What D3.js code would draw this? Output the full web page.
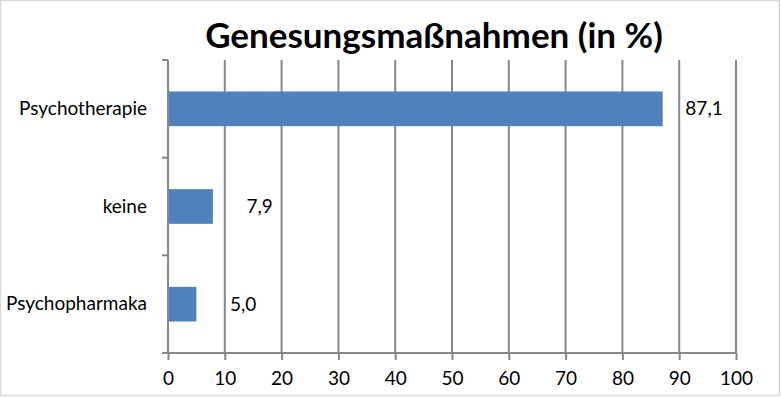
<!DOCTYPE html>
<html><head><meta charset="utf-8">
<script src="https://cdn.jsdelivr.net/npm/d3@7"></script>
<style>
html,body{margin:0;padding:0;background:#fff;}
svg text{font-family:"Lato","Open Sans",sans-serif;}
</style></head>
<body><svg id="c" width="781" height="397"></svg>
<script>
const title = "Genesungsmaßnahmen (in %)";
const categories = ["Psychotherapie", "keine", "Psychopharmaka"];
const values = [87.1, 7.9, 5.0];
const valueLabels = ["87,1", "7,9", "5,0"];
const xTicks = [0, 10, 20, 30, 40, 50, 60, 70, 80, 90, 100];

const svg = d3.select("#c");
const W = 781, H = 397;
const m = {left: 168, right: 736, top: 60, bottom: 353};
const fs = 19;

svg.append("rect").attr("x", 0.5).attr("y", 0.5).attr("width", W - 2).attr("height", H - 2)
  .attr("fill", "#fff").attr("stroke", "#d9d9d9").attr("stroke-width", 1.5);

const x = d3.scaleLinear().domain([0, 100]).range([m.left, m.right]);
const y = d3.scaleBand().domain(categories).range([m.top, m.bottom]).paddingInner(0.645).paddingOuter(0.3225);

const gc = "#878787";
// gridlines
svg.append("g").selectAll("line").data(xTicks.slice(1)).join("line")
  .attr("x1", d => x(d)).attr("x2", d => x(d)).attr("y1", m.top).attr("y2", m.bottom)
  .attr("stroke", gc).attr("stroke-width", 2);

// bars
svg.append("g").selectAll("rect").data(values).join("rect")
  .attr("x", x(0)).attr("y", (d, i) => y(categories[i]))
  .attr("width", d => x(d) - x(0)).attr("height", y.bandwidth())
  .attr("fill", "#4f81bd");

// x axis
const xa = svg.append("g").attr("transform", `translate(0,${m.bottom})`)
  .call(d3.axisBottom(x).tickValues(xTicks).tickSize(7).tickPadding(12).tickFormat(d3.format("d")));
xa.select(".domain").attr("stroke", gc).attr("stroke-width", 2).attr("d", `M${m.left - 6},0H${m.right}`);
xa.selectAll(".tick line").attr("stroke", gc).attr("stroke-width", 2);
xa.selectAll(".tick text").attr("font-size", fs).attr("fill", "#000");

// y axis
const ya = svg.append("g").attr("transform", `translate(${m.left},0)`)
  .call(d3.axisLeft(y).tickSize(0).tickPadding(21));
ya.select(".domain").attr("stroke", gc).attr("stroke-width", 2).attr("d", `M0,${m.top}V${m.bottom}`);
ya.selectAll(".tick text").attr("font-size", fs).attr("fill", "#000");
// category boundary ticks
const bounds = d3.range(categories.length + 1).map(i => m.top + i * y.step());
svg.append("g").selectAll("line").data(bounds).join("line")
  .attr("x1", m.left - 6).attr("x2", m.left).attr("y1", d => d).attr("y2", d => d)
  .attr("stroke", gc).attr("stroke-width", 2);

// value labels
svg.append("g").selectAll("text").data(values).join("text")
  .attr("x", d => x(d) + 60).attr("y", (d, i) => y(categories[i]) + y.bandwidth() / 2)
  .attr("dy", "0.35em").attr("text-anchor", "end").attr("font-size", fs).attr("fill", "#000")
  .text((d, i) => valueLabels[i]);

// title
svg.append("text").attr("x", 434).attr("y", 48).attr("text-anchor", "middle")
  .attr("font-size", 35).attr("font-weight", "bold").attr("fill", "#000").text(title);
</script></body></html>
